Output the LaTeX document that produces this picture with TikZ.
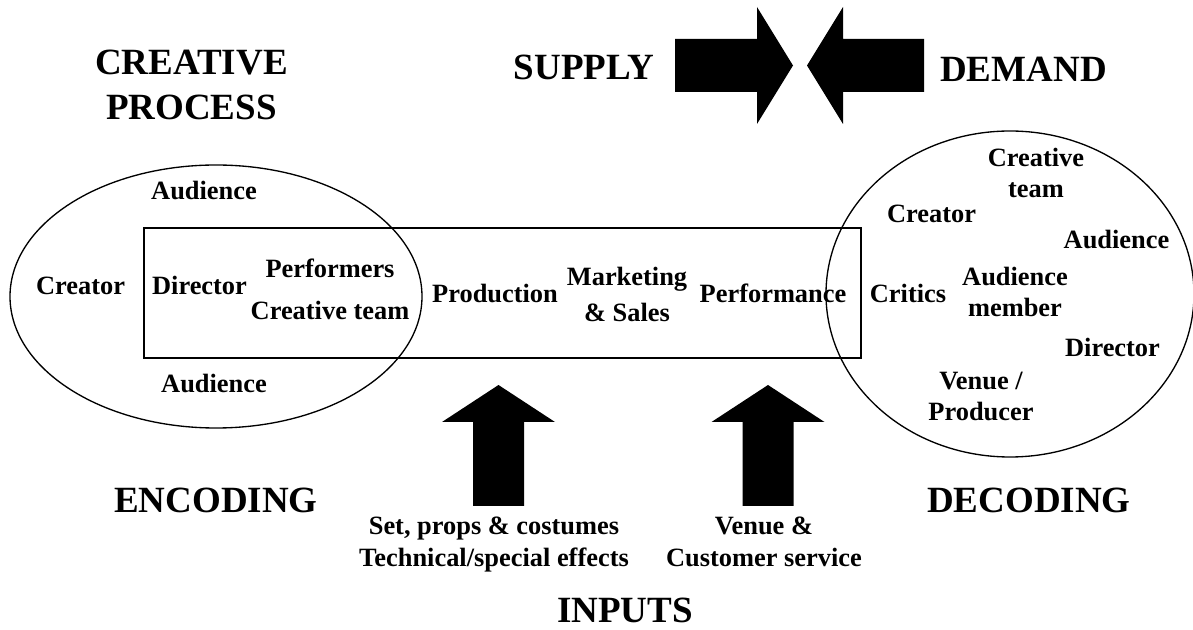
\documentclass[tikz,border=0pt]{standalone}
\usepackage{fontspec}
\setmainfont{Liberation Serif}

\tikzset{
  lbl/.style={font=\fontsize{19.8}{23.25}\selectfont\bfseries, align=center, anchor=base},
  bigtitle/.style={font=\fontsize{27.75}{33.75}\selectfont\bfseries, align=center, anchor=base},
  blockarrow/.style={fill=black},
  outline/.style={draw=black, line width=1pt}
}

\begin{document}
\begin{tikzpicture}[y=0.75pt, x=0.75pt, yscale=-1, inner sep=0pt, outer sep=0pt]
\useasboundingbox (0,0) rectangle (1193,630);

% encoding ellipse, production box, decoding ellipse
\path[outline] (216,296.5) ellipse [x radius=206, y radius=131.5];
\path[outline, line width=1.2pt] (144,228) rectangle (861,358);
\path[outline] (1010,294) ellipse [x radius=184, y radius=163];

% supply / demand arrows
\path[blockarrow] (675,39) -- (757,39) -- (757,7) -- (793,65.5) -- (757,124)
  -- (757,92) -- (675,92) -- cycle;
\path[blockarrow] (924,39) -- (843,39) -- (843,7) -- (807,65.5) -- (843,124)
  -- (843,92) -- (924,92) -- cycle;

% input arrows
\foreach \cx in {498.5,768}
  \path[blockarrow] (\cx-25.5,506) -- (\cx-25.5,422) -- (\cx-56.5,422) -- (\cx,385)
    -- (\cx+56.5,422) -- (\cx+25.5,422) -- (\cx+25.5,506) -- cycle;

% headings (base = last line)
\node[bigtitle] (creative) at (191.5,120) {CREATIVE\\PROCESS};
\node[bigtitle] (supply) at (584,80) {SUPPLY};
\node[bigtitle] (demand) at (1023.5,82) {DEMAND};
\node[bigtitle] (encoding) at (216,513) {ENCODING};
\node[bigtitle] (decoding) at (1029,513) {DECODING};
\node[bigtitle] (inputs) at (625,623) {INPUTS};

% left ellipse
\node[lbl] (audtop) at (204,200) {Audience};
\node[lbl] (creatorl) at (80.5,295) {Creator};
\node[lbl] (directorl) at (199.5,295) {Director};
\node[lbl] (performers) at (330,320) {Performers\\[8.25pt]Creative team};
\node[lbl] (audbot) at (214,393) {Audience};

% box
\node[lbl] (production) at (495,303) {Production};
\node[lbl] (marketing) at (627,322) {Marketing\\[4.25pt]\& Sales};
\node[lbl] (performance) at (773,303) {Performance};

% right ellipse
\node[lbl] (creativeteam) at (1036,198) {Creative\\team};
\node[lbl] (creatorr) at (931.5,223) {Creator};
\node[lbl] (audr) at (1116.5,249) {Audience};
\node[lbl] (critics) at (908,303) {Critics};
\node[lbl] (audmember) at (1015,317) {Audience\\member};
\node[lbl] (directorr) at (1112.5,357) {Director};
\node[lbl] (producer) at (981,421) {Venue /\\Producer};

% inputs
\node[lbl] (props) at (494,567) {Set, props \& costumes\\[0.75pt]Technical/special effects};
\node[lbl] (service) at (764,567) {Venue \&\\[0.75pt]Customer service};

\end{tikzpicture}
\end{document}
